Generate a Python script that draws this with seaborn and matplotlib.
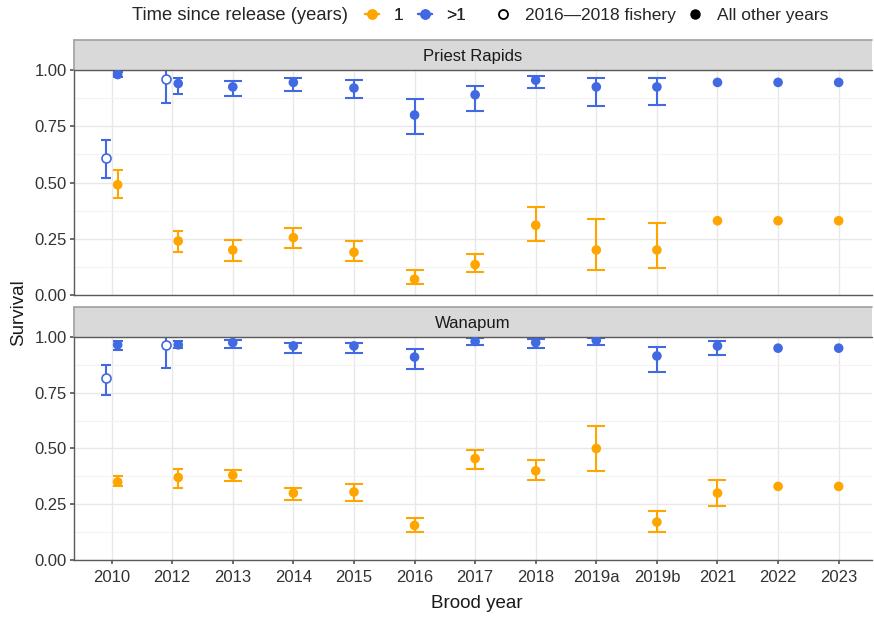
import numpy as np
import pandas as pd
import matplotlib.pyplot as plt
import seaborn as sns
from matplotlib.lines import Line2D
from matplotlib.patches import Rectangle

years = ["2010", "2012", "2013", "2014", "2015", "2016", "2017", "2018",
         "2019a", "2019b", "2021", "2022", "2023"]
nan = np.nan

# Priest Rapids
pr_one = [0.49, 0.24, 0.20, 0.255, 0.19, 0.07, 0.135, 0.31, 0.20, 0.20, 0.33, 0.33, 0.33]
pr_one_lo = [0.43, 0.19, 0.15, 0.21, 0.15, 0.05, 0.10, 0.24, 0.11, 0.12, nan, nan, nan]
pr_one_hi = [0.555, 0.285, 0.245, 0.30, 0.24, 0.11, 0.18, 0.39, 0.34, 0.32, nan, nan, nan]
pr_gt1 = [0.98, 0.94, 0.925, 0.945, 0.92, 0.80, 0.89, 0.955, 0.925, 0.925, 0.945, 0.945, 0.945]
pr_gt1_lo = [0.97, 0.895, 0.885, 0.905, 0.875, 0.715, 0.82, 0.92, 0.84, 0.845, nan, nan, nan]
pr_gt1_hi = [0.99, 0.965, 0.95, 0.965, 0.955, 0.87, 0.93, 0.975, 0.965, 0.965, nan, nan, nan]
pr_fish = [0.61, 0.96]
pr_fish_lo = [0.52, 0.855]
pr_fish_hi = [0.69, 1.01]

# Wanapum
wa_one = [0.35, 0.37, 0.38, 0.30, 0.305, 0.155, 0.455, 0.40, 0.50, 0.17, 0.30, 0.33, 0.33]
wa_one_lo = [0.33, 0.325, 0.355, 0.27, 0.265, 0.125, 0.41, 0.36, 0.40, 0.125, 0.24, nan, nan]
wa_one_hi = [0.375, 0.41, 0.405, 0.325, 0.34, 0.19, 0.495, 0.45, 0.60, 0.22, 0.36, nan, nan]
wa_gt1 = [0.965, 0.965, 0.975, 0.96, 0.96, 0.91, 0.98, 0.975, 0.985, 0.915, 0.96, 0.95, 0.95]
wa_gt1_lo = [0.94, 0.95, 0.95, 0.93, 0.93, 0.855, 0.965, 0.95, 0.965, 0.845, 0.92, nan, nan]
wa_gt1_hi = [0.98, 0.98, 0.985, 0.975, 0.975, 0.945, 0.995, 0.99, 0.995, 0.955, 0.98, nan, nan]
wa_fish = [0.815, 0.965]
wa_fish_lo = [0.74, 0.86]
wa_fish_hi = [0.875, 1.01]

fish_years = ["2010", "2012"]

colors = {"1": "#FFA500", ">1": "#4169E1"}


def build(one, one_lo, one_hi, gt1, gt1_lo, gt1_hi, fish, fish_lo, fish_hi):
    rows = []
    for i, y in enumerate(years):
        shift = 0.1 if y in fish_years else 0.0
        rows.append(dict(year=y, x=i + shift, age="1", est=one[i], lo=one_lo[i], hi=one_hi[i], fishery=False))
        rows.append(dict(year=y, x=i + shift, age=">1", est=gt1[i], lo=gt1_lo[i], hi=gt1_hi[i], fishery=False))
    for j, y in enumerate(fish_years):
        rows.append(dict(year=y, x=years.index(y) - 0.1, age=">1", est=fish[j], lo=fish_lo[j],
                         hi=fish_hi[j], fishery=True))
    return pd.DataFrame(rows)


panels = [
    ("Priest Rapids", build(pr_one, pr_one_lo, pr_one_hi, pr_gt1, pr_gt1_lo, pr_gt1_hi,
                            pr_fish, pr_fish_lo, pr_fish_hi)),
    ("Wanapum", build(wa_one, wa_one_lo, wa_one_hi, wa_gt1, wa_gt1_lo, wa_gt1_hi,
                      wa_fish, wa_fish_lo, wa_fish_hi)),
]

sns.set_theme(style="white")
plt.rcParams['font.family'] = ['Liberation Sans', 'DejaVu Sans']

fig = plt.figure(figsize=(8.74, 6.17), dpi=100)
boxes = [[0.0847, 0.5219, 0.913, 0.3646], [0.0847, 0.0924, 0.913, 0.3614]]

for (name, df), box in zip(panels, boxes):
    ax = fig.add_axes(box)
    ax.set_xlim(-0.62, 12.55)
    ax.set_ylim(0, 1)
    ax.set_yticks([0, 0.25, 0.5, 0.75, 1.0])
    ax.set_yticks([0.125, 0.375, 0.625, 0.875], minor=True)
    ax.set_xticks(range(len(years)))
    ax.grid(True, which="major", color="#E8E8E8", lw=1.0)
    ax.grid(True, which="minor", axis="y", color="#F3F3F3", lw=0.8)
    ax.set_axisbelow(True)

    # error bars
    for _, r in df.dropna(subset=["lo"]).iterrows():
        dodged = r["year"] in fish_years
        ax.errorbar(r["x"], r["est"], yerr=[[r["est"] - r["lo"]], [r["hi"] - r["est"]]],
                    fmt="none", ecolor=colors[r["age"]], elinewidth=1.5,
                    capsize=3.6 if dodged else 6.5, capthick=1.5, zorder=2)

    filled = df[~df["fishery"]]
    sns.scatterplot(data=filled, x="x", y="est", hue="age", palette=colors, s=48,
                    edgecolor="none", legend=False, ax=ax, zorder=3)
    open_pts = df[df["fishery"]]
    sns.scatterplot(data=open_pts, x="x", y="est", color="white", edgecolor=colors[">1"],
                    linewidth=1.2, s=42, legend=False, ax=ax, zorder=3)

    for s in ["top", "right"]:
        ax.spines[s].set_visible(False)
    for s in ["left", "bottom"]:
        ax.spines[s].set_color("#5A5A5A")
        ax.spines[s].set_linewidth(1.0)
    ax.tick_params(axis="y", which="major", length=3, color="#5A5A5A", labelsize=12,
                   labelcolor="#333333", left=True, pad=2)
    ax.tick_params(axis="y", which="minor", length=0)
    ax.set_ylabel("")
    ax.set_xlabel("")
    ax.set_yticklabels(["0.00", "0.25", "0.50", "0.75", "1.00"])
    if name == "Priest Rapids":
        ax.tick_params(axis="x", length=0, labelbottom=False)
    else:
        ax.tick_params(axis="x", length=3, color="#5A5A5A", labelsize=12, labelcolor="#333333",
                       bottom=True, pad=4)
        ax.set_xticklabels(years)

    # facet strip
    strip = Rectangle((0, 1.0), 1.0, 0.135, transform=ax.transAxes, facecolor="#D9D9D9",
                      edgecolor="none", clip_on=False)
    ax.add_patch(strip)
    ax.plot([0, 1], [1.135, 1.135], transform=ax.transAxes, color="#A0A0A0", lw=1.2, clip_on=False)
    ax.plot([0, 1], [1.0, 1.0], transform=ax.transAxes, color="#5A5A5A", lw=1.0, clip_on=False)
    ax.plot([0, 0], [1.0, 1.135], transform=ax.transAxes, color="#A0A0A0", lw=1.2, clip_on=False)
    ax.text(0.5, 1.06, name, transform=ax.transAxes, ha="center", va="center",
            fontsize=12, color="#1A1A1A")

fig.text(0.021, 0.494, "Survival", rotation=90, ha="center", va="center", fontsize=13.5,
         color="#1A1A1A")
fig.text(0.5455, 0.022, "Brood year", ha="center", va="center", fontsize=13.5, color="#1A1A1A")

fs = 12.5
fig.text(0.151, 0.975, "Time since release (years)", ha="left", va="center", fontsize=13.2)
h_col = [Line2D([], [], marker="o", ls="-", lw=1.6, color=colors["1"], markersize=6.5),
         Line2D([], [], marker="o", ls="-", lw=1.6, color=colors[">1"], markersize=6.5)]
leg1 = fig.legend(h_col, ["1", ">1"], loc="center left", bbox_to_anchor=(0.418, 0.975), ncol=2,
                  frameon=False, fontsize=fs, handlelength=0.8, handletextpad=0.85,
                  columnspacing=0.8, borderpad=0, borderaxespad=0)
h_shape = [Line2D([], [], marker="o", ls="none", markerfacecolor="white", markeredgecolor="black",
                  markeredgewidth=1.3, markersize=6.5),
           Line2D([], [], marker="o", ls="none", color="black", markersize=6.5)]
fig.legend(h_shape, ["2016\u20142018 fishery", "All other years"], loc="center left",
           bbox_to_anchor=(0.568, 0.975), ncol=2, frameon=False, fontsize=fs, handlelength=0.8,
           handletextpad=0.85, columnspacing=0.72, borderpad=0, borderaxespad=0)
fig.add_artist(leg1)

fig.savefig("out.png", dpi=100)
